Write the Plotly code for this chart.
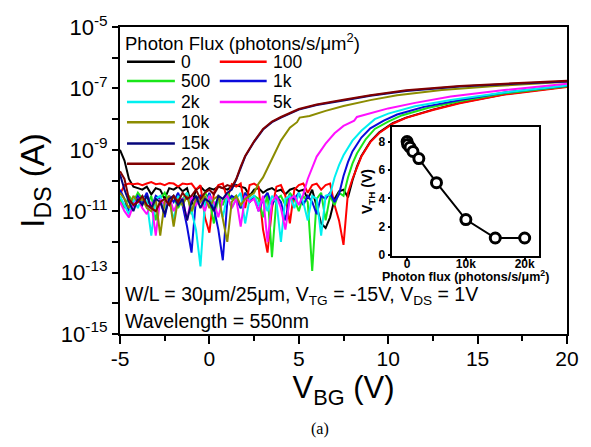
import plotly.graph_objects as go

# ---------------- data ----------------
V_SWEEP = [-5.0, -4.75, -4.5, -4.25, -4.0, -3.75, -3.5, -3.25, -3.0, -2.75, -2.5, -2.25,
           -2.0, -1.75, -1.5, -1.25, -1.0, -0.75, -0.5, -0.25, 0.0, 0.25, 0.5, 0.75,
           1.0, 1.25, 1.5, 1.75, 2.0, 2.25, 2.5, 2.75, 3.0, 3.25, 3.5, 3.75, 4.0, 4.25,
           4.5, 4.75, 5.0, 5.25, 5.5, 5.75, 6.0, 6.25, 6.5, 6.75, 7.0, 7.25, 7.5, 7.75, 8.0]

FLUX_LABELS = ["0", "100", "500", "1k", "2k", "5k", "10k", "15k", "20k"]
COLORS = ["#000000", "#ff0000", "#19e619", "#0a0adc", "#00f0f0", "#ff10ff", "#8c8c00", "#06067a", "#800000"]

# log10(I_DS) in the off-state noise floor, sampled on V_SWEEP from -5 V
FLOOR_0 = [-9.0, -9.35, -9.95, -10.2, -10.25, -10.3, -10.2, -10.45, -10.25, -10.3,
           -10.6, -10.25, -10.3, -10.2, -10.35, -10.25, -10.8, -10.3, -10.2, -10.35,
           -10.25, -10.3, -10.2, -10.25, -10.3, -10.2, -10.15, -10.2, -10.25, -10.5,
           -10.3, -10.25, -10.4, -10.3, -10.25, -10.35, -10.3, -10.45, -10.3, -10.25,
           -10.35, -10.3, -10.6, -10.3, -10.9, -11.4, -11.55, -11.2, -10.6, -10.35,
           -10.3, -10.55]
FLOOR_100 = [-10.45, -10.15, -10.1, -10.12, -10.1, -10.15, -10.1, -10.05, -10.12, -10.1,
             -10.15, -10.08, -10.1, -10.2, -10.1, -10.12, -10.1, -10.3, -10.15, -11.2,
             -11.7, -10.4, -10.15, -10.1, -10.6, -10.12, -10.2, -10.1, -10.9, -10.15,
             -10.1, -10.2, -11.6, -12.35, -10.9, -10.2, -10.15, -10.5, -11.4, -10.3,
             -10.15, -10.1, -10.4, -10.15, -10.1, -10.3, -10.15, -10.1, -10.8, -11.3,
             -12.1, -10.4]
FLOOR_500 = [-10.6, -10.9, -10.5, -10.7, -10.4, -10.6, -10.8, -10.5, -11.3, -10.6,
             -10.4, -10.7, -10.5, -10.9, -10.6, -10.4, -11.1, -10.5, -10.7, -10.4,
             -10.6, -11.4, -10.5, -10.8, -10.4, -10.6, -10.5, -10.9, -10.4, -10.7,
             -10.5, -10.6, -11.2, -10.4, -12.5, -10.6, -10.5, -10.8, -10.4, -10.6,
             -11.0, -10.5, -10.7, -12.95, -10.6, -10.4, -11.3, -10.5, -10.8, -10.4,
             -10.5]
FLOOR_1K = [-10.3, -10.6, -11.0, -10.8, -10.5, -10.7, -10.4, -10.9, -10.5, -10.6,
            -11.2, -10.5, -10.7, -10.4, -10.8, -11.5, -12.35, -10.6, -10.5, -10.8,
            -10.4, -10.9, -11.6, -12.6, -10.7, -10.5, -10.6, -10.9, -10.4, -10.7,
            -10.5, -11.0, -10.6, -10.4, -10.8, -10.5, -10.7, -11.3, -10.5, -10.6,
            -10.4, -10.8, -10.5, -10.7, -11.1, -10.5, -10.6, -10.4, -10.7, -10.45]
FLOOR_2K = [-10.5, -10.8, -11.1, -10.6, -10.9, -10.5, -10.7, -11.8, -10.6, -10.5,
            -10.9, -10.6, -11.3, -10.5, -10.7, -10.4, -11.0, -11.6, -12.8, -10.7,
            -10.5, -10.8, -10.6, -11.2, -10.5, -10.9, -10.6, -10.4, -11.4, -10.6,
            -10.5, -10.8, -10.6, -11.0, -10.5, -10.7, -12.0, -10.6, -10.5, -10.9,
            -10.4, -10.7, -11.3, -10.5, -10.6, -11.8, -10.5, -10.45]
FLOOR_5K = [-10.7, -11.0, -11.2, -10.8, -10.6, -10.9, -11.1, -10.7, -11.8, -10.6,
            -10.8, -10.5, -11.0, -10.7, -10.6, -11.3, -10.5, -10.8, -10.6, -11.0,
            -10.5, -10.7, -11.2, -10.6, -10.5, -10.9, -10.6, -11.5, -10.5, -10.7,
            -10.6, -11.0, -10.5, -12.0, -10.7, -10.5, -10.9, -11.6, -10.6, -10.5,
            -10.8, -10.45]
FLOOR_10K = [-10.4, -10.6, -10.9, -10.5, -10.7, -10.6, -10.9, -11.0, -10.6, -11.8,
             -10.7, -10.5, -11.5, -10.6, -10.8, -10.5, -11.0, -10.6, -10.7, -10.5,
             -10.9, -10.6, -10.5, -11.2, -12.0, -10.7, -10.5, -10.8, -10.6, -10.5,
             -10.4]
FLOOR_15K = [-9.8, -10.3, -10.7, -11.0, -10.6, -10.8, -10.5, -10.9, -10.6, -10.7,
             -11.1, -10.6, -10.5, -10.8, -10.6, -11.3, -10.7, -10.5, -10.9, -10.6,
             -10.7, -11.0, -10.5, -10.6, -10.4, -10.3]
FLOOR_20K = [-9.7, -9.95, -10.6, -10.8, -10.7, -10.5, -10.8, -10.9, -11.0, -10.7,
             -10.6, -10.8, -10.5, -10.7, -10.4, -10.6, -10.5, -10.3, -10.6, -10.4,
             -10.3, -10.45, -10.2, -10.25, -10.15, -10.2]

# on-state branch: (V_BG, log10 I_DS)
ON_V_0 = [8.0, 8.25, 8.5, 9.0, 9.5, 10.25, 11.0, 12.5, 14.0, 16.5, 20.0]
ON_L_0 = [-10.0, -9.55, -9.2, -8.73, -8.43, -8.13, -7.95, -7.69, -7.47, -7.19, -6.94]
ON_V_100 = [8.0, 8.25, 8.5, 9.0, 9.5, 10.25, 11.0, 12.5, 14.0, 16.5, 20.0]
ON_L_100 = [-9.95, -9.55, -9.22, -8.75, -8.45, -8.15, -7.96, -7.7, -7.48, -7.2, -6.95]
ON_V_500 = [7.75, 8.0, 8.25, 8.75, 9.25, 10.0, 10.75, 12.25, 14.0, 16.5, 20.0]
ON_L_500 = [-9.9, -9.45, -9.12, -8.65, -8.32, -8.08, -7.88, -7.63, -7.42, -7.16, -6.93]
ON_V_1K = [7.5, 7.75, 8.0, 8.5, 9.0, 9.75, 10.5, 12.0, 14.0, 16.5, 20.0]
ON_L_1K = [-9.85, -9.4, -9.05, -8.6, -8.3, -8.05, -7.85, -7.6, -7.38, -7.13, -6.91]
ON_V_2K = [7.0, 7.25, 7.5, 8.0, 8.5, 9.25, 10.0, 11.5, 13.5, 16.5, 20.0]
ON_L_2K = [-9.9, -9.5, -9.18, -8.7, -8.38, -8.0, -7.82, -7.58, -7.38, -7.13, -6.9]
ON_V_5K = [5.5, 5.75, 6.0, 6.5, 7.0, 7.5, 8.1, 8.25, 9.0, 10.0, 11.5, 13.5, 16.5, 20.0]
ON_L_5K = [-9.95, -9.55, -9.22, -8.8, -8.46, -8.22, -8.05, -7.93, -7.82, -7.65, -7.47, -7.26, -7.05, -6.85]
ON_V_10K = [2.75, 3.0, 3.25, 3.5, 4.0, 4.5, 4.9, 5.05, 5.6, 6.5, 7.5, 9.0, 10.5, 13.0, 16.0, 20.0]
ON_L_10K = [-10.1, -9.9, -9.6, -9.3, -8.7, -8.28, -8.1, -7.95, -7.9, -7.73, -7.57, -7.38, -7.22, -7.05, -6.92, -6.78]
ON_V_15K = [1.5, 1.75, 2.0, 2.5, 3.0, 3.5, 4.0, 5.0, 6.0, 7.5, 9.0, 11.0, 14.0, 17.0, 20.0]
ON_L_15K = [-9.97, -9.57, -9.22, -8.74, -8.34, -8.1, -7.95, -7.69, -7.54, -7.39, -7.24, -7.08, -6.94, -6.85, -6.77]
ON_V_20K = [1.5, 1.75, 2.0, 2.5, 3.0, 3.5, 4.0, 5.0, 6.0, 7.5, 9.0, 11.0, 14.0, 17.0, 20.0]
ON_L_20K = [-9.95, -9.55, -9.2, -8.72, -8.32, -8.08, -7.93, -7.67, -7.52, -7.37, -7.22, -7.06, -6.92, -6.83, -6.75]

FLOORS = [FLOOR_0, FLOOR_100, FLOOR_500, FLOOR_1K, FLOOR_2K, FLOOR_5K, FLOOR_10K, FLOOR_15K, FLOOR_20K]
ON_VS = [ON_V_0, ON_V_100, ON_V_500, ON_V_1K, ON_V_2K, ON_V_5K, ON_V_10K, ON_V_15K, ON_V_20K]
ON_LS = [ON_L_0, ON_L_100, ON_L_500, ON_L_1K, ON_L_2K, ON_L_5K, ON_L_10K, ON_L_15K, ON_L_20K]

# inset: threshold voltage vs photon flux
INSET_FLUX = [0, 100, 500, 1000, 2000, 5000, 10000, 15000, 20000]
INSET_VTH = [8.0, 7.8, 7.6, 7.3, 6.8, 5.1, 2.5, 1.2, 1.2]

Y_TICK_EXP = [-15, -14, -13, -12, -11, -10, -9, -8, -7, -6, -5]
X_TICKS = [-5, 0, 5, 10, 15, 20]

# ---------------- layout helpers ----------------
W, H = 591, 447
PL, PT, PW, PH = 120, 15, 448, 319
FONT = "Liberation Sans, Arial, sans-serif"


def px(x):
    return (x - PL) / PW


def py(y):
    return (PT + PH - y) / PH


fig = go.Figure()

for lab, col, fl, onv, onl in zip(FLUX_LABELS, COLORS, FLOORS, ON_VS, ON_LS):
    xs = V_SWEEP[:len(fl)] + onv
    ys = [10 ** v for v in fl + onl]
    fig.add_trace(go.Scatter(x=xs, y=ys, mode="lines", name=lab,
                             line=dict(color=col, width=2), showlegend=False,
                             xaxis="x", yaxis="y"))

fig.add_trace(go.Scatter(x=INSET_FLUX, y=INSET_VTH, mode="lines+markers",
                         line=dict(color="black", width=2),
                         marker=dict(symbol="circle", size=10, color="white",
                                     line=dict(color="black", width=3)),
                         showlegend=False, xaxis="x2", yaxis="y2"))

ytext = ["10<sup>%d</sup>" % e if e % 2 else "" for e in Y_TICK_EXP]

fig.update_layout(
    width=W, height=H,
    margin=dict(l=PL, r=W - PL - PW, t=PT, b=H - PT - PH, pad=0),
    paper_bgcolor="white", plot_bgcolor="white",
    font=dict(family=FONT, color="black"),
    xaxis=dict(domain=[0, 1], range=[-5, 20], tickvals=X_TICKS,
               ticktext=[str(v) for v in X_TICKS],
               ticks="outside", ticklen=8, tickwidth=2, tickcolor="black",
               minor=dict(dtick=2.5, tick0=-5, ticks="outside", ticklen=5, tickwidth=2, tickcolor="black"),
               showline=True, linewidth=2, linecolor="black", mirror=True,
               showgrid=False, zeroline=False, ticklabelstandoff=-3,
               tickfont=dict(size=21, family=FONT),
               title=dict(text="V<sub>BG</sub> (V)", font=dict(size=31, family=FONT), standoff=0)),
    yaxis=dict(domain=[0, 1], type="log", range=[-15.003, -4.997],
               tickvals=[float("1e%d" % e) for e in Y_TICK_EXP], ticktext=ytext,
               ticks="outside", ticklen=6, tickwidth=2, tickcolor="black",
               showline=True, linewidth=2, linecolor="black", mirror=True,
               showgrid=False, zeroline=False, ticklabeloverflow="allow",
               tickfont=dict(size=22, family=FONT),
               title=dict(text="I<sub>DS</sub> (A)", font=dict(size=33, family=FONT), standoff=6)),
    xaxis2=dict(domain=[px(393), px(540)], anchor="y2", range=[-2500, 22450],
                tickvals=[0, 10000, 20000], ticktext=["0", "10k", "20k"],
                ticks="outside", ticklen=3, tickwidth=1.5, tickcolor="black",
                showline=True, linewidth=1.5, linecolor="black", mirror=True,
                showgrid=False, zeroline=False, ticklabelstandoff=-7,
                tickfont=dict(size=12, family=FONT, weight="bold")),
    yaxis2=dict(domain=[py(253), py(119)], anchor="x2", range=[-0.07, 9.02],
                tickvals=[0, 2, 4, 6, 8],
                ticks="outside", ticklen=3, tickwidth=1.5, tickcolor="black",
                showline=True, linewidth=1.5, linecolor="black", mirror=True,
                showgrid=False, zeroline=False,
                tickfont=dict(size=12, family=FONT, weight="bold"),
                title=dict(text="V<sub>TH</sub> (V)",
                           font=dict(size=14, family=FONT, weight="bold"), standoff=3)),
)

# inset x-axis title
fig.add_annotation(xref="paper", yref="paper", x=px(466), y=py(274),
                   text="<b>Photon flux (photons/s/\u03bcm<sup>2</sup>)</b>", showarrow=False,
                   xanchor="center", yanchor="middle", borderpad=0,
                   font=dict(size=12.5, family=FONT))

# manual two-column legend
LEG_ROWS_Y = [51, 71, 93, 114, 136, 157]
LEG_POS = [(0, 0), (1, 0), (0, 1), (1, 1), (0, 2), (1, 2), (0, 3), (0, 4), (0, 5)]
COL_LINE_X = [(127, 175), (220, 267)]
COL_TEXT_X = [180, 272]
for lab, col, (c, r) in zip(FLUX_LABELS, COLORS, LEG_POS):
    yy = LEG_ROWS_Y[r]
    fig.add_shape(type="line", xref="paper", yref="paper",
                  x0=px(COL_LINE_X[c][0]), x1=px(COL_LINE_X[c][1]), y0=py(yy), y1=py(yy),
                  line=dict(color=col, width=2.5))
    fig.add_annotation(xref="paper", yref="paper", x=px(COL_TEXT_X[c]), y=py(yy),
                       text=lab, showarrow=False, xanchor="left", yanchor="middle",
                       font=dict(size=17.5, family=FONT), borderpad=0)

fig.add_annotation(xref="paper", yref="paper", x=px(124), y=py(31),
                   text="Photon Flux (photons/s/\u03bcm<sup>2</sup>)", showarrow=False,
                   xanchor="left", yanchor="middle", font=dict(size=18.5, family=FONT), borderpad=0)
fig.add_annotation(xref="paper", yref="paper", x=px(124), y=py(294),
                   text="W/L = 30\u03bcm/25\u03bcm, V<sub>TG</sub> = -15V, V<sub>DS</sub> = 1V",
                   showarrow=False, xanchor="left", yanchor="middle", font=dict(size=19.5, family=FONT),
                   borderpad=0)
fig.add_annotation(xref="paper", yref="paper", x=px(124), y=py(321),
                   text="Wavelength = 550nm", showarrow=False,
                   xanchor="left", yanchor="middle", font=dict(size=19.5, family=FONT), borderpad=0)
fig.add_annotation(xref="paper", yref="paper", x=px(320), y=py(433),
                   text="(a)", showarrow=False, xanchor="center", yanchor="middle",
                   font=dict(size=16, family="Liberation Serif, Times New Roman, serif"))

fig.write_html("out.html")
